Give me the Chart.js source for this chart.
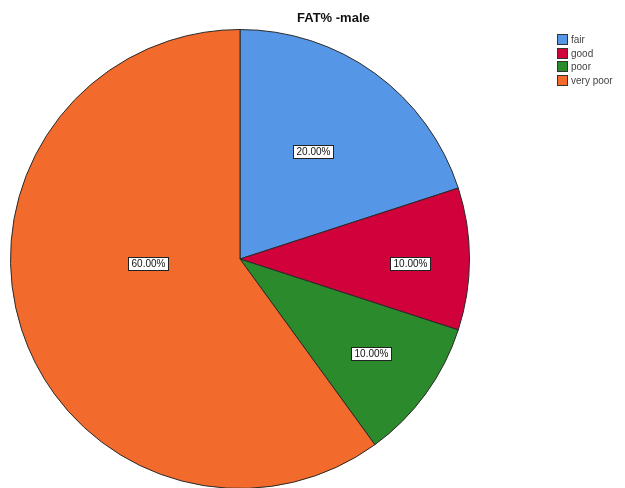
<!DOCTYPE html>
<html>
<head>
<meta charset="utf-8">
<script src="https://cdn.jsdelivr.net/npm/chart.js@4/dist/chart.umd.min.js"></script>
<style>
  html, body { margin: 0; padding: 0; background: #fff; overflow: hidden; }
  #wrap { width: 625px; height: 500px; }
</style>
</head>
<body>
<div id="wrap"><canvas id="pieChart" width="625" height="500"></canvas></div>
<script>
// chart data
const chartTitle = 'FAT% -male';
const categories = ['fair', 'good', 'poor', 'very poor'];
const percentages = [20, 10, 10, 60];
const sliceColors = ['#5596e6', '#d1013b', '#2b8a2b', '#f26b2c'];
// where each value label sits, as [x, y] in units of the pie radius from its centre
const labelSpots = [[0.32, -0.47], [0.74, 0.02], [0.57, 0.41], [-0.40, 0.02]];

// boxed percentage labels inside the slices
const boxLabels = {
    id: 'boxLabels',
    afterDatasetsDraw(chart) {
        const { ctx } = chart;
        const meta = chart.getDatasetMeta(0);
        ctx.save();
        ctx.font = '10px "Liberation Sans", Arial, sans-serif';
        ctx.textAlign = 'center';
        ctx.textBaseline = 'middle';
        meta.data.forEach((arc, i) => {
            const { x, y, outerRadius } = arc.getProps(['x', 'y', 'outerRadius'], true);
            const lx = x + labelSpots[i][0] * outerRadius;
            const ly = y + labelSpots[i][1] * outerRadius;
            const text = percentages[i].toFixed(2) + '%';
            const w = Math.round(ctx.measureText(text).width + 6);
            const h = 13;
            const bx = Math.round(lx - w / 2) + 0.5;
            const by = Math.round(ly - h / 2) + 0.5;
            ctx.fillStyle = '#fff';
            ctx.fillRect(bx, by, w, h);
            ctx.strokeStyle = '#222';
            ctx.lineWidth = 1;
            ctx.strokeRect(bx, by, w, h);
            ctx.fillStyle = '#111';
            ctx.fillText(text, bx + w / 2, by + h / 2 + 0.5);
        });
        ctx.restore();
    }
};

// title and legend in fixed spots
const titleAndLegend = {
    id: 'titleAndLegend',
    afterDraw(chart) {
        const { ctx } = chart;
        ctx.save();
        ctx.font = 'bold 13px "Liberation Sans", Arial, sans-serif';
        ctx.fillStyle = '#111';
        ctx.textAlign = 'left';
        ctx.textBaseline = 'middle';
        ctx.fillText(chartTitle, 297, 18);

        ctx.font = '10px "Liberation Sans", Arial, sans-serif';
        chart.data.labels.forEach((label, i) => {
            const top = Math.round(34 + i * 13.5);
            ctx.fillStyle = sliceColors[i];
            ctx.fillRect(557, top, 11, 11);
            ctx.strokeStyle = '#333';
            ctx.lineWidth = 1;
            ctx.strokeRect(557.5, top + 0.5, 10, 10);
            ctx.fillStyle = '#444';
            ctx.fillText(label, 571, top + 6);
        });
        ctx.restore();
    }
};

new Chart(document.getElementById('pieChart'), {
    type: 'pie',
    data: {
        labels: categories,
        datasets: [{
            data: percentages,
            backgroundColor: sliceColors,
            borderColor: '#2a2a2a',
            borderWidth: 1
        }]
    },
    options: {
        responsive: false,
        animation: false,
        layout: {
            padding: { left: 10, right: 155, top: 29, bottom: 11 }
        },
        plugins: {
            legend: { display: false },
            title: { display: false },
            tooltip: { enabled: false }
        }
    },
    plugins: [boxLabels, titleAndLegend]
});
</script>
</body>
</html>
